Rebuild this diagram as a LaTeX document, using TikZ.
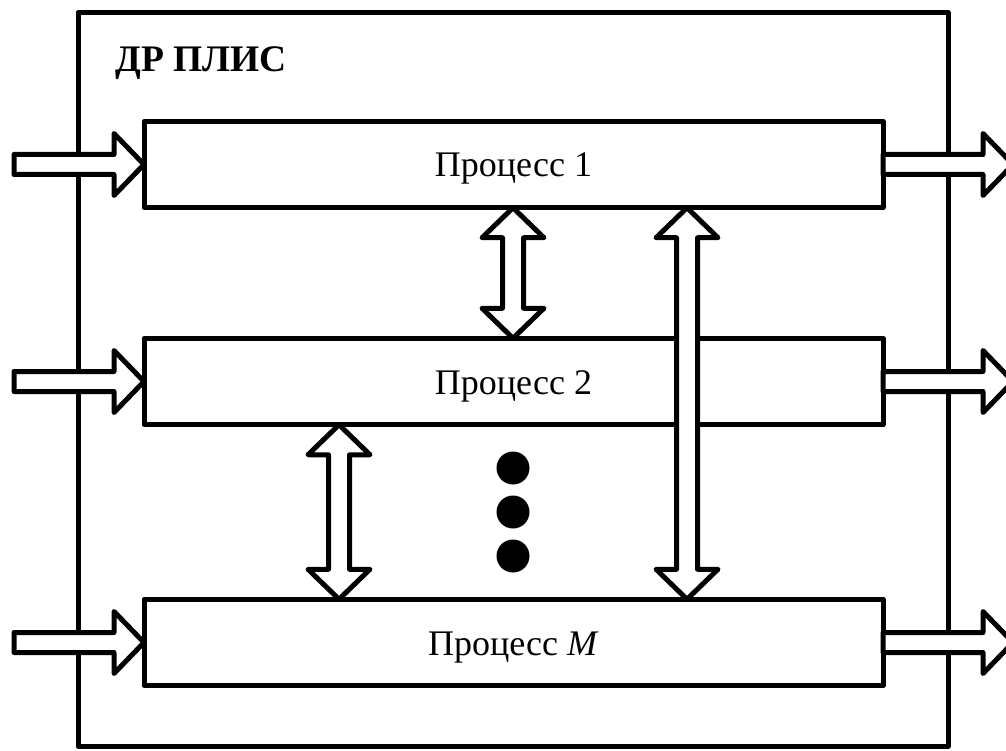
\documentclass[tikz,border=0pt]{standalone}
\usepackage{fontspec}
\setmainfont{Liberation Serif}
\usetikzlibrary{calc}
\newcommand{\harrowdraw}[2]{%
  \path[blockarrow] let \p1=#1, \p2=#2 in
    (\x1,\y1+10pt) -- (\x2-30pt,\y1+10pt) -- (\x2-30pt,\y1+31pt) -- (\x2,\y2)
    -- (\x2-30pt,\y1-31pt) -- (\x2-30pt,\y1-10pt) -- (\x1,\y1-10pt) -- cycle;}
\newcommand{\vdarrowdraw}[2]{%
  \path[blockarrow] let \p1=#1, \p2=#2 in
    (\x1,\y1) -- (\x1+31pt,\y1-30pt) -- (\x1+10.5pt,\y1-30pt) -- (\x1+10.5pt,\y2+30pt)
    -- (\x1+31pt,\y2+30pt) -- (\x2,\y2) -- (\x1-31pt,\y2+30pt) -- (\x1-10.5pt,\y2+30pt)
    -- (\x1-10.5pt,\y1-30pt) -- (\x1-31pt,\y1-30pt) -- cycle;}
\begin{document}
\begin{tikzpicture}[x=1pt,y=-1pt,line width=5pt,line join=round,
  procbox/.style={draw,fill=white,minimum width=739pt,minimum height=86.5pt,
    outer sep=0pt,inner sep=0pt,font=\fontsize{36}{40}\selectfont,
    text height=25pt,text depth=0pt},
  frame/.style={draw,outer sep=0pt,inner sep=0pt,minimum width=870pt,minimum height=733.5pt},
  blockarrow/.style={draw,fill=white,line width=5pt,line join=round},
  blackdot/.style={circle,fill=black,inner sep=0pt,minimum size=33pt}]
\clip (0,0) rectangle (1006,751);
\useasboundingbox (0,0) rectangle (1006,751);
% frame
\node[frame] (fpga) at (513,379.25) {};
\node[anchor=base west,inner sep=0pt,font=\bfseries\fontsize{37.5}{42}\selectfont] (title) at (113,72) {ДР ПЛИС};
% process boxes
\node[procbox] (p1) at (513.5,164.5) {Процесс 1};
\node[procbox] (p2) at (513.5,381.5) {Процесс 2};
\node[procbox] (pm) at (513.5,642.5) {Процесс \textit{M}};
% input / output free ends
\coordinate (in1) at ($(p1.west)+(-130,0)$);
\coordinate (in2) at ($(p2.west)+(-130,0)$);
\coordinate (inm) at ($(pm.west)+(-130,0)$);
\coordinate (out1) at ($(p1.east)+(130,0)$);
\coordinate (out2) at ($(p2.east)+(130,0)$);
\coordinate (outm) at ($(pm.east)+(130,0)$);
\harrowdraw{(in1)}{(p1.west)}
\harrowdraw{(in2)}{(p2.west)}
\harrowdraw{(inm)}{(pm.west)}
\harrowdraw{(p1.east)}{(out1)}
\harrowdraw{(p2.east)}{(out2)}
\harrowdraw{(pm.east)}{(outm)}
% vertical links
\coordinate (xa) at (513,0);
\coordinate (xb) at (339,0);
\coordinate (xc) at (687,0);
\vdarrowdraw{(p1.south -| xa)}{(p2.north -| xa)}
\vdarrowdraw{(p2.south -| xb)}{(pm.north -| xb)}
\vdarrowdraw{(p1.south -| xc)}{(pm.north -| xc)}
% dots
\node[blackdot] (d1) at (513,468) {};
\node[blackdot] (d2) at (513,512) {};
\node[blackdot] (d3) at (513,556) {};
\end{tikzpicture}
\end{document}
